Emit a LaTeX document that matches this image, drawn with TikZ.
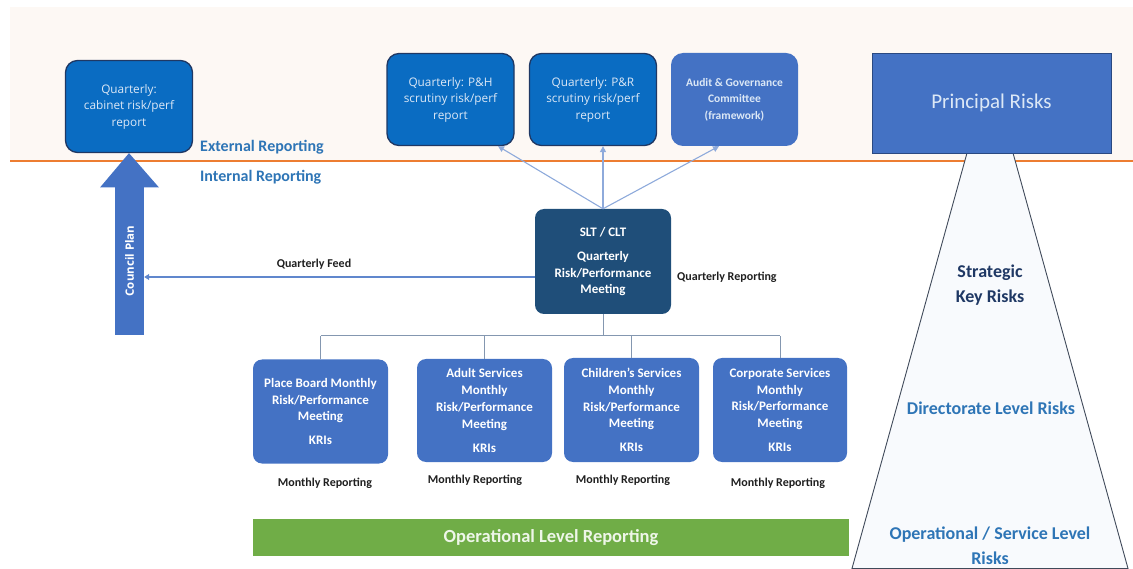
\documentclass[tikz,border=0pt]{standalone}
\usepackage{fontspec}
\setmainfont{Carlito}
\newfontfamily\opensans{Open Sans}
\usetikzlibrary{arrows.meta,calc}

\definecolor{cream}{HTML}{FDF8F4}
\definecolor{rule}{HTML}{ED7D31}
\definecolor{navy}{HTML}{1F3864}
\definecolor{brightblue}{HTML}{0A6CC2}
\definecolor{midblue}{HTML}{4472C4}
\definecolor{deepblue}{HTML}{1F4E79}
\definecolor{paleblue}{HTML}{DCE8F6}
\definecolor{headblue}{HTML}{2E75B6}
\definecolor{linkblue}{HTML}{8EAADB}
\definecolor{treegray}{HTML}{8497B0}
\definecolor{pyrfill}{HTML}{F8FAFD}
\definecolor{pyrline}{HTML}{404A5A}
\definecolor{leafgreen}{HTML}{70AD47}
\definecolor{palegreen}{HTML}{EEF6E8}

\begin{document}
\begin{tikzpicture}[x=1pt,y=-1pt,
  reportbox/.style={draw=navy, line width=1.3pt, fill=brightblue, rounded corners=12pt,
    minimum width=127pt, minimum height=92pt, inner sep=0pt, align=center, text=paleblue,
    font=\opensans\fontsize{11.8}{16.5}\selectfont},
  auditbox/.style={fill=midblue, rounded corners=12pt, minimum width=127pt, minimum height=93pt,
    inner sep=0pt, align=center, text=paleblue, font=\bfseries\fontsize{11.5}{16.5}\selectfont},
  meetbox/.style={fill=midblue, rounded corners=9pt, minimum width=135pt, minimum height=104pt,
    inner sep=0pt, align=center, text=white, font=\bfseries\fontsize{13}{16.7}\selectfont},
  boldlabel/.style={inner sep=0pt, text=black!88, font=\bfseries\fontsize{12}{14}\selectfont},
  bandlabel/.style={inner sep=0pt, text=headblue, anchor=west, font=\bfseries\fontsize{16}{19}\selectfont},
  risklabel/.style={inner sep=0pt, align=center, font=\bfseries\fontsize{18}{25}\selectfont},
  uplink/.style={draw=linkblue, line width=1.1pt, -{Triangle[length=6pt,width=6pt]}},
  feedlink/.style={draw=midblue!85, line width=1.1pt, -{Triangle[length=5pt,width=6pt]}},
  treeline/.style={draw=treegray, line width=1pt}
]
\useasboundingbox (0,0) rectangle (1133,569);

% external band and the dividing rule
\fill[cream] (10,7) rectangle (1133,161);
\draw[rule, line width=2pt] (10,161) -- (1133,161);

% risk pyramid below the principal risks
\draw[pyrline, fill=pyrfill, line width=0.9pt] (967,153) -- (852,568.5) -- (1128,568.5) -- (1013,153) -- cycle;

% external reports
\node[reportbox] (cab) at (129,106.5) {Quarterly:\\cabinet risk/perf\\report};
\node[reportbox] (ph) at (450.5,99.5) {Quarterly: P\&H\\scrutiny risk/perf\\report};
\node[reportbox] (pr) at (593,99.5) {Quarterly: P\&R\\scrutiny risk/perf\\report};
\node[auditbox] (audit) at (734.5,99.5) {Audit \& Governance\\Committee\\(framework)};
\node[draw=navy!70!midblue, line width=0.8pt, fill=midblue, minimum width=239pt, minimum height=100pt,
  inner sep=0pt, text=paleblue, font=\fontsize{21}{25}\selectfont] (principal) at (991.5,103) {Principal Risks};

\node[bandlabel] (ext) at (200,147) {External Reporting};
\node[bandlabel] (int) at (200,177) {Internal Reporting};

% council plan arrow
\node[rotate=90, fill=midblue, minimum width=148pt, minimum height=29pt, inner sep=0pt,
  text=white, font=\opensans\bfseries\fontsize{11.5}{14}\selectfont] (council) at (129.5,261) {Council Plan};
\fill[midblue] (100,187.5) -- (159,187.5) -- (cab.south) -- cycle;

% senior leadership meeting
\node[meetbox, fill=deepblue, minimum width=136pt, minimum height=105pt] (slt) at (603,261.5)
  {SLT / CLT\\[7.5pt]Quarterly\\Risk/Performance\\Meeting};
\node[boldlabel, anchor=west] (qrep) at (677,277) {Quarterly Reporting};

\draw[feedlink] ([yshift=-15.5pt]slt.west) -- ([yshift=-15.5pt]slt.west -| council.south);
\node[boldlabel] (qfeed) at (314,264) {Quarterly Feed};

\draw[uplink] (slt.north) -- ([xshift=47.5pt]ph.south);
\draw[uplink] (slt.north) -- (slt.north |- pr.south);
\draw[uplink] (slt.north) -- ([xshift=-15.5pt]audit.south);

% directorate meetings
\node[meetbox] (pb) at (320.5,411.5) {Place Board Monthly\\Risk/Performance\\Meeting\\[7.3pt]KRIs};
\node[meetbox, minimum height=103pt] (adult) at (484.5,410.5) {Adult Services\\Monthly\\Risk/Performance\\Meeting\\[7.3pt]KRIs};
\node[meetbox, minimum height=104pt] (child) at (631.5,410) {Children’s Services\\Monthly\\Risk/Performance\\Meeting\\[7.3pt]KRIs};
\node[meetbox, minimum width=134pt, minimum height=104pt] (corp) at (780,410) {Corporate Services\\Monthly\\Risk/Performance\\Meeting\\[7.3pt]KRIs};

\coordinate (bus) at (0,336);
\draw[treeline] (slt.south) -- (slt.south |- bus);
\draw[treeline] (pb.north |- bus) -- (corp.north |- bus);
\foreach \m in {pb,adult,child,corp}
  \draw[treeline] (\m.north) -- (\m.north |- bus);

\node[boldlabel] (mpb) at (325,483) {Monthly Reporting};
\node[boldlabel] (madult) at (475,480) {Monthly Reporting};
\node[boldlabel] (mchild) at (623,480) {Monthly Reporting};
\node[boldlabel] (mcorp) at (778,483) {Monthly Reporting};

% operational bar
\node[fill=leafgreen, minimum width=596pt, minimum height=37pt, inner sep=0pt, text=palegreen,
  font=\bfseries\fontsize{18.5}{22}\selectfont] (ops) at (551,537.5) {Operational Level Reporting};

% pyramid tiers
\node[risklabel, text=navy] (strat) at (990,285.5) {Strategic\\Key Risks};
\node[risklabel, text=headblue] (dir) at (991,408) {Directorate Level Risks};
\node[risklabel, text=headblue] (oper) at (990,545.5) {Operational / Service Level\\Risks};
\end{tikzpicture}
\end{document}
